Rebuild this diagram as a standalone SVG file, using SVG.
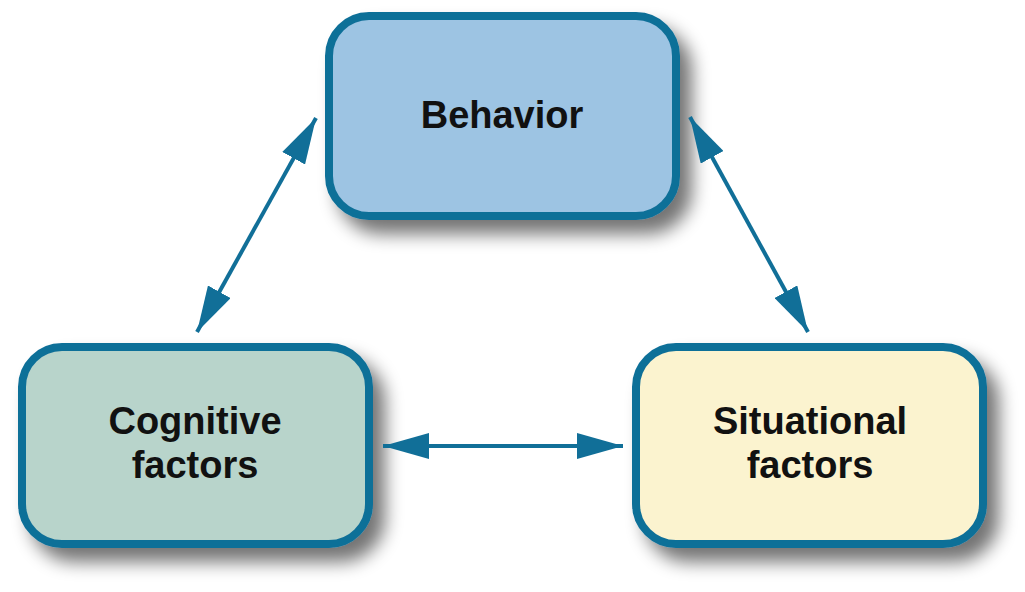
<svg xmlns="http://www.w3.org/2000/svg" width="1025" height="592" viewBox="0 0 1025 592">
<style>
.box{stroke:#116F98;stroke-width:8}
.lbl{font-family:"Liberation Sans",Arial,sans-serif;font-weight:bold;font-size:38px;fill:#111;text-anchor:middle}
.conn{stroke:#116F98;stroke-width:4;fill:none}
</style>
<defs>
<filter id="sh" x="-20%" y="-20%" width="150%" height="170%">
<feGaussianBlur in="SourceAlpha" stdDeviation="9"/>
<feOffset dx="12" dy="14" result="b"/>
<feComponentTransfer><feFuncA type="linear" slope="0.55"/></feComponentTransfer>
<feMerge><feMergeNode/><feMergeNode in="SourceGraphic"/></feMerge>
</filter>
<marker id="ah" viewBox="0 0 46 26" refX="46" refY="13" markerWidth="46" markerHeight="26" markerUnits="userSpaceOnUse" orient="auto-start-reverse">
<path d="M0,0 L46,13 L0,26 Z" fill="#116F98"/>
</marker>
</defs>
<g id="behavior">
<rect class="box" x="329" y="16" width="347" height="200" rx="40" fill="#9DC4E3" filter="url(#sh)"/>
<text class="lbl" x="502" y="128">Behavior</text>
</g>
<g id="cognitive">
<rect class="box" x="22" y="347" width="347" height="197" rx="40" fill="#B8D4CB" filter="url(#sh)"/>
<text class="lbl" x="195" y="434">Cognitive</text>
<text class="lbl" x="195" y="478">factors</text>
</g>
<g id="situational">
<rect class="box" x="636" y="347" width="347" height="197" rx="40" fill="#FBF3CF" filter="url(#sh)"/>
<text class="lbl" x="810" y="434">Situational</text>
<text class="lbl" x="810" y="478">factors</text>
</g>
<g id="connectors">
<line class="conn" x1="197" y1="332" x2="316" y2="118" marker-start="url(#ah)" marker-end="url(#ah)"/>
<line class="conn" x1="690" y1="117" x2="808" y2="332" marker-start="url(#ah)" marker-end="url(#ah)"/>
<line class="conn" x1="383" y1="446" x2="623" y2="446" marker-start="url(#ah)" marker-end="url(#ah)"/>
</g>
</svg>
